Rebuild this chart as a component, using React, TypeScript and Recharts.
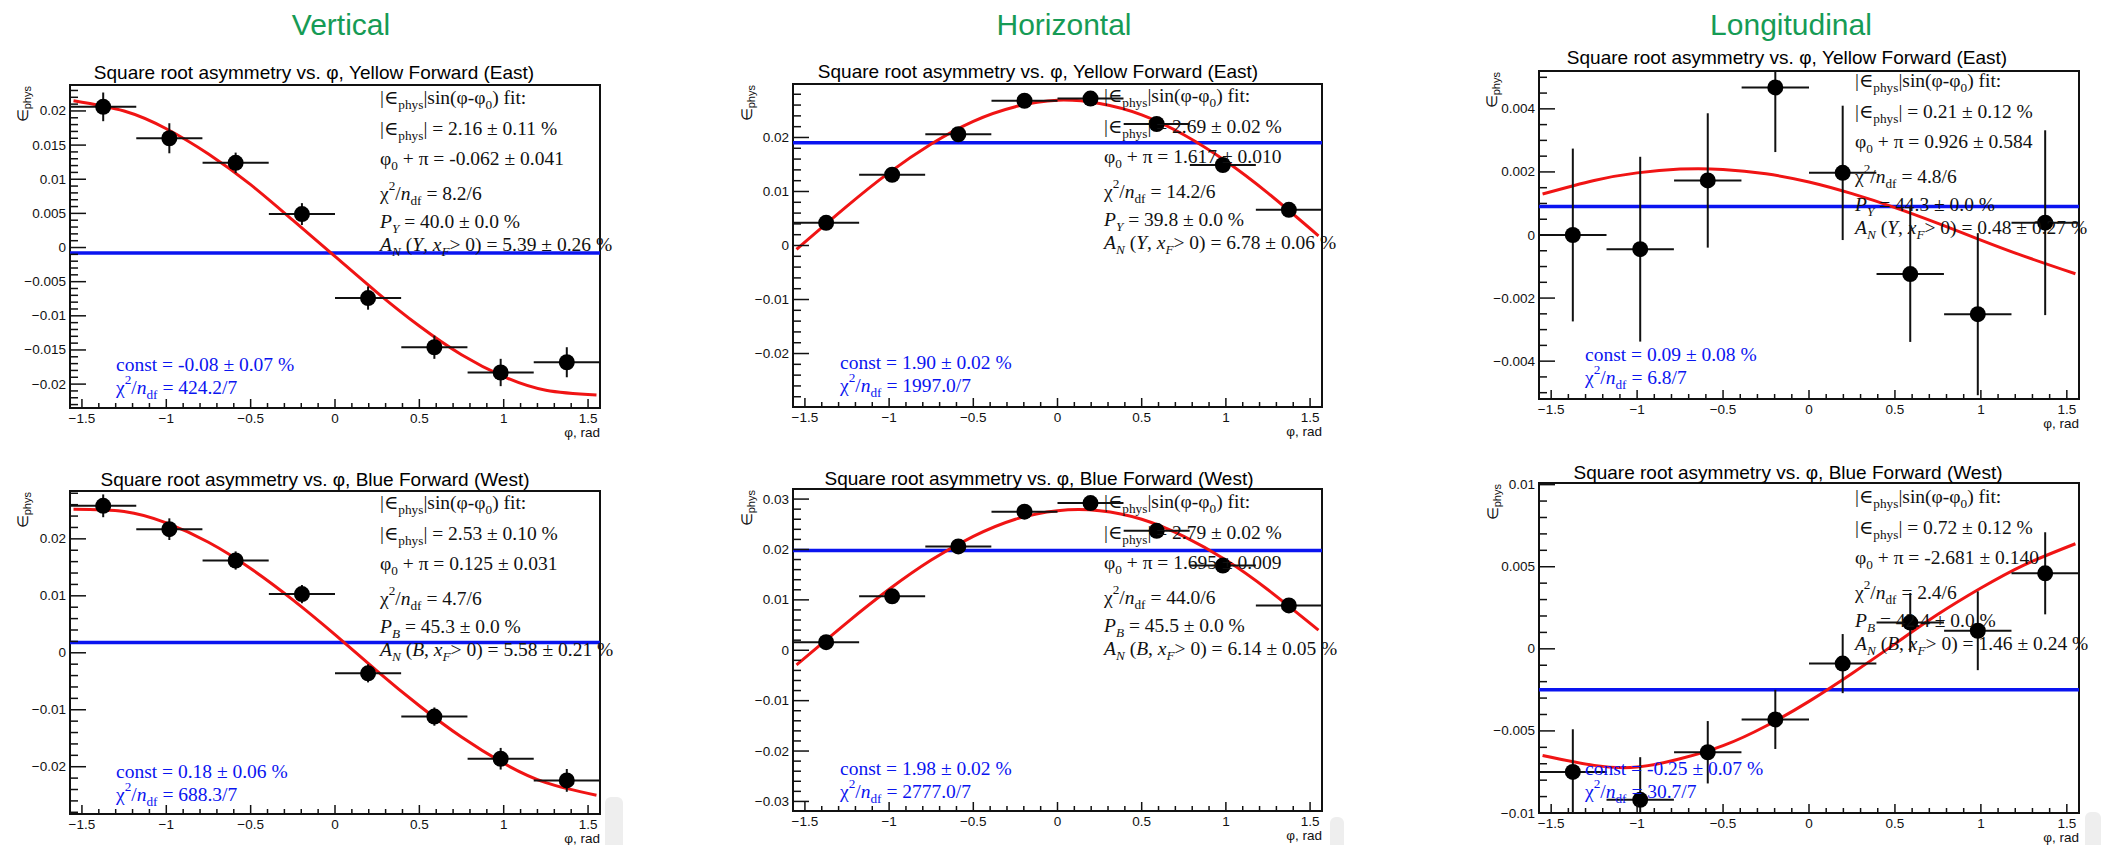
import React from "react";
import {
  ComposedChart,
  XAxis,
  YAxis,
  Scatter,
  ErrorBar,
  Line,
  ReferenceLine,
  ReferenceArea,
} from "recharts";

const HALF_PI = Math.PI / 2;

// bin centres in phi (8 bins over [-pi/2, pi/2]) and the half bin width
const PHI_BINS = [-1.374, -0.982, -0.589, -0.196, 0.196, 0.589, 0.982, 1.374];
const PHI_HALF_BIN = 0.196;
const FIT_PHI = [-1.55, -1.25, -1.0, -0.75, -0.5, -0.25, 0, 0.25, 0.5, 0.75, 1.0, 1.25, 1.55];

/* ---------------- Vertical, Yellow ---------------- */
const vertYellowEps = [0.0206, 0.016, 0.0124, 0.0049, -0.0074, -0.0146, -0.0183, -0.0168];
const vertYellowErr = [0.0021, 0.0022, 0.0015, 0.0016, 0.0017, 0.0017, 0.002, 0.0022];
const vertYellowFit = [0.0215, 0.02, 0.0174, 0.0137, 0.0092, 0.004, -0.0013, -0.0066, -0.0115, -0.0157, -0.0189, -0.0209, -0.0216];
const vertYellowConst = -0.0008;
const vertYellowTicks = [-0.02, -0.015, -0.01, -0.005, 0, 0.005, 0.01, 0.015, 0.02];

/* ---------------- Horizontal, Yellow ---------------- */
const horizYellowEps = [0.0042, 0.0131, 0.0206, 0.0268, 0.0272, 0.0225, 0.0149, 0.0066];
const horizYellowErr = [0.0005, 0.0005, 0.0005, 0.0005, 0.0005, 0.0005, 0.0005, 0.0005];
const horizYellowFit = [-0.0007, 0.0073, 0.0135, 0.0188, 0.023, 0.0257, 0.0269, 0.0263, 0.0242, 0.0205, 0.0156, 0.0097, 0.0018];
const horizYellowConst = 0.019;
const horizYellowTicks = [-0.02, -0.01, 0, 0.01, 0.02];

/* ---------------- Longitudinal, Yellow ---------------- */
const longYellowEps = [0.0, -0.00045, 0.00173, 0.00468, 0.00197, -0.00124, -0.00251, 0.00039];
const longYellowErr = [0.00274, 0.00293, 0.00213, 0.00205, 0.00213, 0.00215, 0.00257, 0.00293];
const longYellowFit = [0.0013, 0.00173, 0.00197, 0.00209, 0.00208, 0.00194, 0.00168, 0.00131, 0.00087, 0.00037, -0.00016, -0.00067, -0.00123];
const longYellowConst = 0.0009;
const longYellowTicks = [-0.004, -0.002, 0, 0.002, 0.004];

/* ---------------- Vertical, Blue ---------------- */
const vertBlueEps = [0.0258, 0.0217, 0.0162, 0.0103, -0.0036, -0.0112, -0.0186, -0.0224];
const vertBlueErr = [0.002, 0.0019, 0.0016, 0.0016, 0.0016, 0.0016, 0.0019, 0.002];
const vertBlueFit = [0.0252, 0.0248, 0.0228, 0.0194, 0.0148, 0.0093, 0.0032, -0.0032, -0.0093, -0.0148, -0.0194, -0.0228, -0.025];
const vertBlueConst = 0.0018;
const vertBlueTicks = [-0.02, -0.01, 0, 0.01, 0.02];

/* ---------------- Horizontal, Blue ---------------- */
const horizBlueEps = [0.0016, 0.0107, 0.0206, 0.0275, 0.0292, 0.0237, 0.0168, 0.0089];
const horizBlueErr = [0.0005, 0.0005, 0.0005, 0.0005, 0.0005, 0.0005, 0.0005, 0.0005];
const horizBlueFit = [-0.0029, 0.0055, 0.0121, 0.0179, 0.0226, 0.026, 0.0277, 0.0277, 0.026, 0.0226, 0.0179, 0.012, 0.004];
const horizBlueConst = 0.0198;
const horizBlueTicks = [-0.03, -0.02, -0.01, 0, 0.01, 0.02, 0.03];

/* ---------------- Longitudinal, Blue ---------------- */
const longBlueEps = [-0.0075, -0.0092, -0.0063, -0.0043, -0.0009, 0.0016, 0.0011, 0.0046];
const longBlueErr = [0.0026, 0.0026, 0.0019, 0.0018, 0.0018, 0.0018, 0.0024, 0.0025];
const longBlueFit = [-0.0065, -0.0071, -0.0072, -0.0067, -0.0059, -0.0047, -0.0032, -0.0015, 0.0003, 0.0021, 0.0037, 0.0051, 0.0064];
const longBlueConst = -0.0025;
const longBlueTicks = [-0.01, -0.005, 0, 0.005, 0.01];

const X_MAJOR = [-1.5, -1, -0.5, 0, 0.5, 1, 1.5];

const TITLE_YELLOW = "Square root asymmetry vs. \u03c6, Yellow Forward (East)";
const TITLE_BLUE = "Square root asymmetry vs. \u03c6, Blue Forward (West)";

const HEADERS = [
  { text: "Vertical", x: 341 },
  { text: "Horizontal", x: 1064 },
  { text: "Longitudinal", x: 1791 },
];

const RED = "#f01414";
const BLUE = "#0a14f0";
const INK = "#111";
const GREEN = "#169b55";
const SANS = "'Liberation Sans', Arial, Helvetica, sans-serif";
const SERIF = "'Liberation Serif', 'Times New Roman', 'DejaVu Serif', serif";
const TM = 6;

const PANELS = [
  {
    key: "vy", left: 70, right: 600, top: 85, bottom: 408, yDomain: [-0.0235, 0.0238],
    yMajor: vertYellowTicks, ySub: 5, eps: vertYellowEps, err: vertYellowErr, fit: vertYellowFit, cnst: vertYellowConst,
    title: TITLE_YELLOW, titleX: 314, titleY: 72, statsX: 380, statsY: 97, blueX: 116, blueY: 364, yTitleX: 24,
    txt: { eps: "2.16 \u00b1 0.11 %", phi: "-0.062 \u00b1 0.041", chi: "8.2/6", beam: "Y", pol: "40.0 \u00b1 0.0 %", an: "5.39 \u00b1 0.26 %", c: "-0.08 \u00b1 0.07 %", cchi: "424.2/7" },
  },
  {
    key: "hy", left: 793, right: 1322, top: 84, bottom: 407, yDomain: [-0.0299, 0.0299],
    yMajor: horizYellowTicks, ySub: 5, eps: horizYellowEps, err: horizYellowErr, fit: horizYellowFit, cnst: horizYellowConst,
    title: TITLE_YELLOW, titleX: 1038, titleY: 71, statsX: 1104, statsY: 95, blueX: 840, blueY: 362, yTitleX: 748,
    txt: { eps: "2.69 \u00b1 0.02 %", phi: "1.617 \u00b1 0.010", chi: "14.2/6", beam: "Y", pol: "39.8 \u00b1 0.0 %", an: "6.78 \u00b1 0.06 %", c: "1.90 \u00b1 0.02 %", cchi: "1997.0/7" },
  },
  {
    key: "ly", left: 1539, right: 2079, top: 71, bottom: 399, yDomain: [-0.0052, 0.0052],
    yMajor: longYellowTicks, ySub: 4, eps: longYellowEps, err: longYellowErr, fit: longYellowFit, cnst: longYellowConst,
    title: TITLE_YELLOW, titleX: 1787, titleY: 57, statsX: 1855, statsY: 80, blueX: 1585, blueY: 354, yTitleX: 1493,
    txt: { eps: "0.21 \u00b1 0.12 %", phi: "0.926 \u00b1 0.584", chi: "4.8/6", beam: "Y", pol: "44.3 \u00b1 0.0 %", an: "0.48 \u00b1 0.27 %", c: "0.09 \u00b1 0.08 %", cchi: "6.8/7" },
  },
  {
    key: "vb", left: 70, right: 600, top: 491, bottom: 814, yDomain: [-0.0283, 0.0284],
    yMajor: vertBlueTicks, ySub: 5, eps: vertBlueEps, err: vertBlueErr, fit: vertBlueFit, cnst: vertBlueConst,
    title: TITLE_BLUE, titleX: 315, titleY: 479, statsX: 380, statsY: 502, blueX: 116, blueY: 771, yTitleX: 24,
    txt: { eps: "2.53 \u00b1 0.10 %", phi: "0.125 \u00b1 0.031", chi: "4.7/6", beam: "B", pol: "45.3 \u00b1 0.0 %", an: "5.58 \u00b1 0.21 %", c: "0.18 \u00b1 0.06 %", cchi: "688.3/7" },
  },
  {
    key: "hb", left: 793, right: 1322, top: 489, bottom: 811, yDomain: [-0.0319, 0.032],
    yMajor: horizBlueTicks, ySub: 5, eps: horizBlueEps, err: horizBlueErr, fit: horizBlueFit, cnst: horizBlueConst,
    title: TITLE_BLUE, titleX: 1039, titleY: 478, statsX: 1104, statsY: 501, blueX: 840, blueY: 768, yTitleX: 748,
    txt: { eps: "2.79 \u00b1 0.02 %", phi: "1.695 \u00b1 0.009", chi: "44.0/6", beam: "B", pol: "45.5 \u00b1 0.0 %", an: "6.14 \u00b1 0.05 %", c: "1.98 \u00b1 0.02 %", cchi: "2777.0/7" },
  },
  {
    key: "lb", left: 1539, right: 2079, top: 483, bottom: 813, yDomain: [-0.01, 0.0101],
    yMajor: longBlueTicks, ySub: 5, eps: longBlueEps, err: longBlueErr, fit: longBlueFit, cnst: longBlueConst,
    title: TITLE_BLUE, titleX: 1788, titleY: 472, statsX: 1855, statsY: 496, blueX: 1585, blueY: 768, yTitleX: 1494,
    txt: { eps: "0.72 \u00b1 0.12 %", phi: "-2.681 \u00b1 0.140", chi: "2.4/6", beam: "B", pol: "42.4 \u00b1 0.0 %", an: "1.46 \u00b1 0.24 %", c: "-0.25 \u00b1 0.07 %", cchi: "30.7/7" },
  },
];

const STATS_DY = [0, 31, 61, 96, 124, 147];

// minor ticks between the labelled ones, ROOT style
function buildTicks(majors: number[], sub: number, lo: number, hi: number) {
  const step = (majors[1] - majors[0]) / sub;
  const k0 = Math.ceil((lo - majors[0]) / step - 1e-6);
  const k1 = Math.floor((hi - majors[0]) / step + 1e-6);
  const out: number[] = [];
  for (let k = k0; k <= k1; k++) out.push(+(majors[0] + k * step).toFixed(6));
  return out;
}

const X_TICKS = buildTicks(X_MAJOR, 5, -HALF_PI, HALF_PI);

const fmt = (v: number) => String(+v.toFixed(4)).replace("-", "\u2212");
const isIn = (arr: number[], v: number) => arr.some((m) => Math.abs(m - v) < 1e-7);

function makeYTick(majors: number[]) {
  return (p: any) => {
    const v = p.payload.value;
    const major = isIn(majors, v);
    const ax = p.x + TM;
    return (
      <g>
        <line x1={ax} x2={ax + (major ? 16 : 8)} y1={p.y} y2={p.y} stroke={INK} strokeWidth={1.5} />
        {major && (
          <text x={ax - 4} y={p.y} textAnchor="end" dominantBaseline="central" fontSize={13.5} fontFamily={SANS} fill={INK}>
            {fmt(v)}
          </text>
        )}
      </g>
    );
  };
}

const xTick = (p: any) => {
  const v = p.payload.value;
  const major = isIn(X_MAJOR, v);
  const ay = p.y - TM;
  return (
    <g>
      <line x1={p.x} x2={p.x} y1={ay} y2={ay - (major ? 9 : 5)} stroke={INK} strokeWidth={1.5} />
      {major && (
        <text x={p.x} y={ay + 10} textAnchor="middle" dominantBaseline="central" fontSize={13.5} fontFamily={SANS} fill={INK}>
          {fmt(v)}
        </text>
      )}
    </g>
  );
};

const dot = (p: any) => <circle cx={p.cx} cy={p.cy} r={8} fill="#000" />;

type Seg = { t: string; s?: "sub" | "sup"; i?: boolean };

function Rich({ x, y, segs, size, color }: { x: number; y: number; segs: Seg[]; size: number; color: string }) {
  let cur = 0;
  return (
    <text x={x} y={y} fontSize={size} fill={color} fontFamily={SERIF} dominantBaseline="central">
      {segs.map((g, k) => {
        const target = g.s === "sub" ? size * 0.35 : g.s === "sup" ? -size * 0.4 : 0;
        const dy = target - cur;
        cur = target;
        return (
          <tspan key={k} dy={dy} fontStyle={g.i ? "italic" : undefined} fontSize={g.s ? size * 0.68 : undefined}>
            {g.t}
          </tspan>
        );
      })}
    </text>
  );
}

function statsLines(t: any): Seg[][] {
  return [
    [{ t: "|\u2208" }, { t: "phys", s: "sub" }, { t: "|sin(\u03c6-\u03c6" }, { t: "0", s: "sub" }, { t: ") fit:" }],
    [{ t: "|\u2208" }, { t: "phys", s: "sub" }, { t: "| = " + t.eps }],
    [{ t: "\u03c6" }, { t: "0", s: "sub" }, { t: " + \u03c0 = " + t.phi }],
    [{ t: "\u03c7" }, { t: "2", s: "sup" }, { t: "/" }, { t: "n", i: true }, { t: "df", s: "sub" }, { t: " = " + t.chi }],
    [{ t: "P", i: true }, { t: t.beam, s: "sub", i: true }, { t: " = " + t.pol }],
    [
      { t: "A", i: true }, { t: "N", s: "sub", i: true }, { t: " (" }, { t: t.beam, i: true }, { t: ", " },
      { t: "x", i: true }, { t: "F", s: "sub", i: true }, { t: "> 0) = " + t.an },
    ],
  ];
}

function Panel({ p }: { p: any }) {
  const w = p.right - p.left + 100;
  const h = p.bottom - p.top + 90;
  const [lo, hi] = p.yDomain;
  // error bars are cut at the frame like in the original
  const points = PHI_BINS.map((x, i) => ({
    x,
    y: p.eps[i],
    ex: PHI_HALF_BIN,
    ey: [Math.min(p.err[i], p.eps[i] - lo), Math.min(p.err[i], hi - p.eps[i])],
  }));
  const fit = FIT_PHI.map((x, i) => ({ x, y: p.fit[i] }));
  const yTicks = buildTicks(p.yMajor, p.ySub, lo, hi);
  return (
    <div style={{ position: "absolute", left: p.left - 70, top: p.top - 40 }}>
      <ComposedChart width={w} height={h} margin={{ top: 40, right: 30, bottom: 0, left: 0 }}>
        <XAxis
          type="number"
          dataKey="x"
          domain={[-HALF_PI, HALF_PI]}
          ticks={X_TICKS}
          interval={0}
          allowDataOverflow
          height={50}
          tickSize={0}
          tickMargin={TM}
          tickLine={false}
          axisLine={false}
          tick={xTick}
        />
        <YAxis
          type="number"
          dataKey="y"
          domain={p.yDomain}
          ticks={yTicks}
          interval={0}
          allowDataOverflow
          width={70}
          tickSize={0}
          tickMargin={TM}
          tickLine={false}
          axisLine={false}
          tick={makeYTick(p.yMajor)}
        />
        <ReferenceLine y={p.cnst} stroke={BLUE} strokeWidth={3.5} />
        <Line data={fit} dataKey="y" type="natural" stroke={RED} strokeWidth={3} dot={false} isAnimationActive={false} />
        <Scatter data={points} dataKey="y" fill="#000" shape={dot} isAnimationActive={false}>
          <ErrorBar dataKey="ex" direction="x" width={0} stroke={INK} strokeWidth={2} />
          <ErrorBar dataKey="ey" direction="y" width={0} stroke={INK} strokeWidth={2} />
        </Scatter>
        <ReferenceArea
          x1={-HALF_PI}
          x2={HALF_PI}
          y1={lo}
          y2={hi}
          fill="none"
          fillOpacity={0}
          stroke={INK}
          strokeWidth={2}
          ifOverflow="visible"
        />
      </ComposedChart>
    </div>
  );
}

export default function App() {
  return (
    <div style={{ position: "absolute", left: 0, top: 0, width: 2110, height: 845, background: "#fff", overflow: "hidden" }}>
      {PANELS.map((p) => (
        <Panel key={p.key} p={p} />
      ))}

      {/* stray grey tabs in the original screenshot */}
      <div style={{ position: "absolute", left: 605, top: 797, width: 18, height: 60, background: "#eeeeee", borderRadius: 6 }} />
      <div style={{ position: "absolute", left: 1330, top: 817, width: 14, height: 40, background: "#eeeeee", borderRadius: 6 }} />
      <div style={{ position: "absolute", left: 2085, top: 812, width: 16, height: 45, background: "#eeeeee", borderRadius: 6 }} />

      <svg width={2110} height={845} style={{ position: "absolute", left: 0, top: 0, pointerEvents: "none" }}>
        {HEADERS.map((hd) => (
          <text key={hd.text} x={hd.x} y={24} textAnchor="middle" dominantBaseline="central" fontSize={30} fontFamily={SANS} fill={GREEN}>
            {hd.text}
          </text>
        ))}
        {PANELS.map((p) => (
          <g key={p.key}>
            <text x={p.titleX} y={p.titleY} textAnchor="middle" dominantBaseline="central" fontSize={19} fontFamily={SANS} fill="#000">
              {p.title}
            </text>
            <text
              transform={`translate(${p.yTitleX + 4},${p.top + 1}) rotate(-90)`}
              textAnchor="end"
              fontSize={15}
              fontFamily={SANS}
              fill={INK}
            >
              {"\u2208"}
              <tspan dy={3} fontSize={11}>phys</tspan>
            </text>
            <text x={p.right} y={p.bottom + 24} textAnchor="end" dominantBaseline="central" fontSize={13.5} fontFamily={SANS} fill={INK}>
              {"\u03c6, rad"}
            </text>
            {statsLines(p.txt).map((segs, i) => (
              <Rich key={i} x={p.statsX} y={p.statsY + STATS_DY[i]} segs={segs} size={19.5} color={INK} />
            ))}
            <Rich x={p.blueX} y={p.blueY} segs={[{ t: "const = " + p.txt.c }]} size={19.5} color={BLUE} />
            <Rich
              x={p.blueX}
              y={p.blueY + 23}
              segs={[{ t: "\u03c7" }, { t: "2", s: "sup" }, { t: "/" }, { t: "n", i: true }, { t: "df", s: "sub" }, { t: " = " + p.txt.cchi }]}
              size={19.5}
              color={BLUE}
            />
          </g>
        ))}
      </svg>
    </div>
  );
}
